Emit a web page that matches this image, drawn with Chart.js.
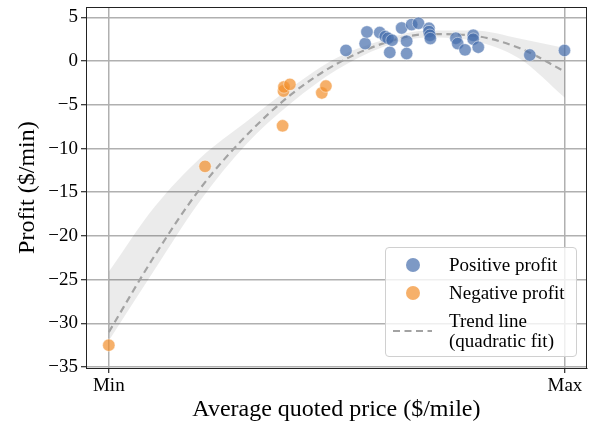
<!DOCTYPE html>
<html>
<head>
<meta charset="utf-8">
<script src="https://cdn.jsdelivr.net/npm/chart.js@4/dist/chart.umd.min.js"></script>
<style>
  html, body { margin: 0; padding: 0; background: #fff; }
  #wrap { position: relative; width: 594px; height: 427px; font-family: 'Liberation Serif', 'Times New Roman', serif; }
  #c { position: absolute; left: 0; top: 0; }
  #legend { position: absolute; left: 385px; top: 247px; width: 192px; height: 110px;
    border: 1px solid #d0d0d0; border-radius: 4px; background: rgba(255,255,255,0.8); box-sizing: border-box; }
  .row { position: absolute; left: 0; width: 100%; font-size: 19px; color: #000; line-height: 20px; }
  .mk { position: absolute; left: 20px; width: 14px; height: 14px; border-radius: 50%; }
  .txt { position: absolute; left: 63px; white-space: pre; }
</style>
</head>
<body>
<div id="wrap">
  <canvas id="c" width="594" height="427"></canvas>
  <div id="legend"></div>
</div>
<script>
// ---- data (x: 0 = Min, 1 = Max) ----
const positiveX = [0.520, 0.562, 0.566, 0.594, 0.606, 0.612, 0.621, 0.616, 0.642, 0.653, 0.653, 0.664, 0.679, 0.702, 0.702, 0.704, 0.705, 0.761, 0.765, 0.781, 0.799, 0.799, 0.810, 0.923, 0.999];
const positiveY = [1.22, 2.01, 3.34, 3.27, 2.81, 2.62, 2.39, 0.99, 3.79, 2.28, 0.87, 4.18, 4.33, 3.76, 3.38, 2.96, 2.58, 2.62, 2.01, 1.29, 2.96, 2.51, 1.59, 0.70, 1.22];
const negativeX = [0.000, 0.211, 0.381, 0.383, 0.384, 0.397, 0.467, 0.476];
const negativeY = [-32.5, -12.04, -7.40, -3.42, -2.96, -2.66, -3.64, -2.85];
const trendX = [0, 0.1, 0.2, 0.3, 0.4, 0.5, 0.6, 0.7, 0.8, 0.9, 1.0];
const trendY = [-31.0, -22.3, -14.6, -8.6, -3.8, -0.3, 2.0, 3.1, 2.9, 1.5, -1.2];
const bandUpper = [-24.1, -16.7, -11.1, -7.0, -3.0, 0.4, 2.4, 3.5, 3.5, 2.6, 1.5];
const bandLower = [-32.0, -23.9, -16.0, -9.6, -4.8, -1.0, 1.6, 2.7, 2.3, 0.3, -4.2];
const xTickValues = [0, 1];
const xTickLabels = ['Min', 'Max'];
const yTickValues = [5, 0, -5, -10, -15, -20, -25, -30, -35];
const legendLabels = ['Positive profit', 'Negative profit', 'Trend line\n(quadratic fit)'];
const xTitle = 'Average quoted price ($/mile)';
const yTitle = 'Profit ($/min)';

const blueFill = 'rgba(70,110,172,0.7)';
const blueEdge = 'rgba(255,255,255,0.45)';
const orangeFill = 'rgba(242,142,43,0.7)';
const orangeEdge = 'rgba(255,255,255,0.45)';
const trendColor = '#a3a3a3';

const pts = (xs, ys) => xs.map((x, i) => ({ x: x, y: ys[i] }));
const FONT = "'Liberation Serif', 'Times New Roman', serif";

const framePlugin = {
  id: 'frame',
  afterDraw(chart) {
    const { ctx, chartArea: a } = chart;
    ctx.save();
    ctx.strokeStyle = '#222';
    ctx.lineWidth = 1;
    ctx.strokeRect(Math.round(a.left) + 0.5, Math.round(a.top) + 0.5, Math.round(a.right - a.left) - 1, Math.round(a.bottom - a.top));
    ctx.restore();
  }
};

new Chart(document.getElementById('c'), {
  type: 'scatter',
  data: {
    datasets: [
      { label: legendLabels[0], data: pts(positiveX, positiveY), backgroundColor: blueFill, borderColor: blueEdge, borderWidth: 1, pointRadius: 6.2, order: 0 },
      { label: legendLabels[1], data: pts(negativeX, negativeY), backgroundColor: orangeFill, borderColor: orangeEdge, borderWidth: 1, pointRadius: 6.2, order: 0 },
      { label: 'trend', data: pts(trendX, trendY), showLine: true, pointRadius: 0, borderColor: trendColor, borderWidth: 2.2, borderDash: [7, 4.5], cubicInterpolationMode: 'monotone', fill: false, order: 1 },
      { label: 'upper', data: pts(trendX, bandUpper), showLine: true, pointRadius: 0, borderWidth: 0, borderColor: 'rgba(0,0,0,0)', cubicInterpolationMode: 'monotone', fill: false, order: 2 },
      { label: 'lower', data: pts(trendX, bandLower), showLine: true, pointRadius: 0, borderWidth: 0, borderColor: 'rgba(0,0,0,0)', cubicInterpolationMode: 'monotone', fill: '-1', backgroundColor: 'rgba(0,0,0,0.08)', order: 2 }
    ]
  },
  options: {
    responsive: false,
    animation: false,
    devicePixelRatio: 1,
    layout: { padding: { top: 6, right: 6, left: 0, bottom: 0 } },
    plugins: { legend: { display: false }, tooltip: { enabled: false } },
    scales: {
      x: {
        type: 'linear', min: -0.05, max: 1.048,
        afterBuildTicks: s => { s.ticks = xTickValues.map(v => ({ value: v })); },
        afterFit: s => { s.height = 59; s.paddingLeft = 0; s.paddingRight = 0; },
        ticks: { callback: (v, i) => xTickLabels[i], color: '#000', font: { family: FONT, size: 19 }, padding: 2, maxRotation: 0, autoSkip: false },
        grid: { color: '#b0b0b0', lineWidth: 1.5, tickColor: '#000', tickLength: 5, tickWidth: 1 },
        border: { color: '#222', width: 1 },
        title: { display: true, text: xTitle, color: '#000', font: { family: FONT, size: 24 }, padding: { top: 0, bottom: 3 } }
      },
      y: {
        type: 'linear', min: -35.11, max: 6.17,
        afterBuildTicks: s => { s.ticks = yTickValues.map(v => ({ value: v })); },
        afterFit: s => { s.width = 86; s.paddingTop = 0; s.paddingBottom = 0; },
        ticks: { callback: v => (v < 0 ? '\u2212' + Math.abs(v) : String(v)), color: '#000', font: { family: FONT, size: 19 }, padding: 3, autoSkip: false },
        grid: { color: '#b0b0b0', lineWidth: 1.5, tickColor: '#000', tickLength: 5, tickWidth: 1 },
        border: { color: '#222', width: 1 },
        title: { display: true, text: yTitle, color: '#000', font: { family: FONT, size: 24 }, padding: { top: 13, bottom: 0 } }
      }
    }
  },
  plugins: [framePlugin]
});

// ---- HTML legend ----
const legend = document.getElementById('legend');
const rowTops = [7, 35, 63];
const markerColors = [blueFill, orangeFill];
legendLabels.forEach((lab, i) => {
  const row = document.createElement('div');
  row.className = 'row';
  row.style.top = rowTops[i] + 'px';
  if (i < 2) {
    const mk = document.createElement('div');
    mk.className = 'mk';
    mk.style.top = '3px';
    mk.style.background = markerColors[i];
    row.appendChild(mk);
  } else {
    const ns = 'http://www.w3.org/2000/svg';
    const svg = document.createElementNS(ns, 'svg');
    svg.setAttribute('width', '40'); svg.setAttribute('height', '6');
    svg.style.position = 'absolute'; svg.style.left = '7px'; svg.style.top = '17px';
    const ln = document.createElementNS(ns, 'line');
    ln.setAttribute('x1', '0'); ln.setAttribute('y1', '3'); ln.setAttribute('x2', '39'); ln.setAttribute('y2', '3');
    ln.setAttribute('stroke', trendColor); ln.setAttribute('stroke-width', '2.2'); ln.setAttribute('stroke-dasharray', '7,4.5');
    svg.appendChild(ln);
    row.appendChild(svg);
  }
  const t = document.createElement('div');
  t.className = 'txt';
  t.textContent = lab;
  row.appendChild(t);
  legend.appendChild(row);
});
</script>
</body>
</html>
